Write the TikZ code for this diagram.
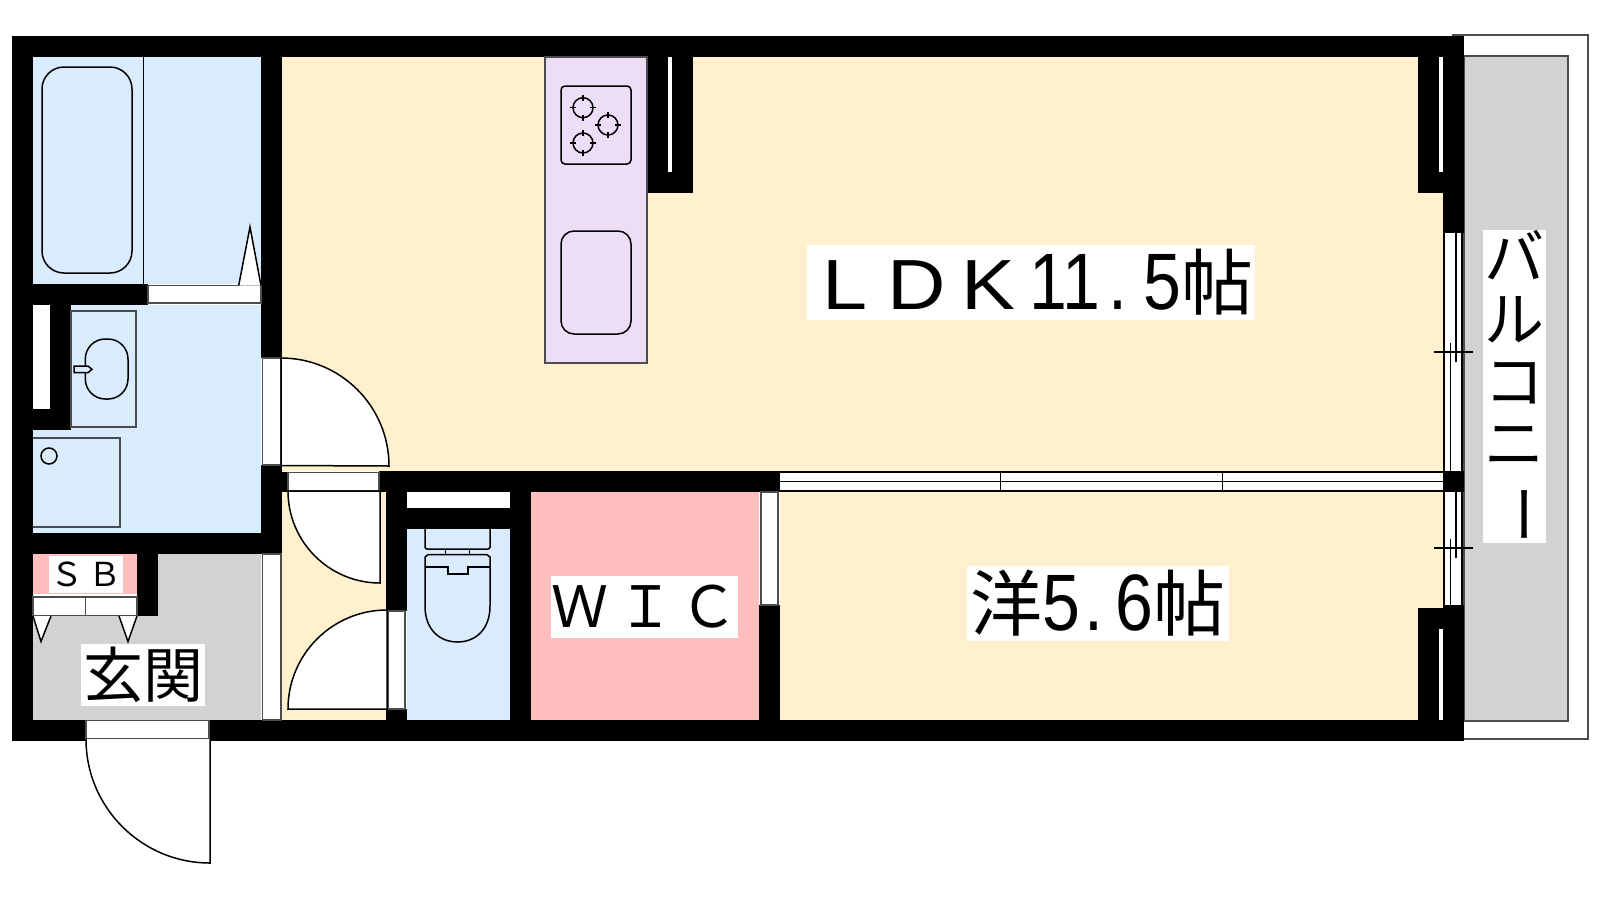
\documentclass[tikz,border=0pt]{standalone}
\usepackage{fontspec}
\usepackage{xcolor}
\newfontfamily\cjkfont{Noto Sans CJK JP}
\newfontfamily\digitfont[FakeStretch=.85]{Liberation Sans}
\newfontfamily\widefont[FakeStretch=1.14]{Liberation Sans}
\newcommand{\cjksize}[1]{\cjkfont\fontsize{#1}{#1}\selectfont}
\newcommand{\digsize}{\digitfont\fontsize{80}{80}\selectfont}
\newcommand{\widecell}[2]{\makebox[#1pt]{#2}}
\definecolor{roomcream}{HTML}{FFF0CE}
\definecolor{roomblue}{HTML}{DAEBFE}
\definecolor{roompink}{HTML}{FEBEBE}
\definecolor{roomgray}{HTML}{D2D2D2}
\definecolor{roomlilac}{HTML}{EDDDF6}
\tikzset{
 fitting/.style={draw=black, line width=1.5pt},
 frameline/.style={draw=black!70, line width=1.6pt},
 doorframe/.style={frameline, fill=white},
 doorleaf/.style={fitting, fill=white},
 labelbox/.style={fill=white, inner sep=0, outer sep=0, text=black, align=center},
}
\begin{document}
\begin{tikzpicture}[x=1pt,y=-1pt]
\useasboundingbox (0,0) rectangle (1600,900);
% rooms
\foreach \xa/\ya/\xb/\yb in {282/57/1443/471, 282/492/386/720, 780/492/1443/720}
 \fill[roomcream] (\xa,\ya) rectangle (\xb,\yb);
\foreach \xa/\ya/\xb/\yb in {33/57/261/284, 33/305/261/533, 407/529/510/720}
 \fill[roomblue] (\xa,\ya) rectangle (\xb,\yb);
\foreach \xa/\ya/\xb/\yb in {531/492/759/720, 33/554/137/594}
 \fill[roompink] (\xa,\ya) rectangle (\xb,\yb);
\fill[roomgray] (137,554) rectangle (261,720);
\fill[roomgray] (33,597) rectangle (261,720);
% balcony
\draw[frameline] (1453,35) rectangle (1588,739);
\draw[frameline, fill=roomgray] (1464,56) rectangle (1568,721);
% walls
\foreach \xa/\ya/\xb/\yb in {12/36/1464/57, 12/36/33/741, 12/720/86/741, 209/720/1464/741,
 261/36/282/358, 261/465/282/554, 282/472/288/492, 12/284/148/305, 50/305/71/430, 33/409/71/430,
 12/533/282/554, 137/554/158/616, 379/471/780/492, 386/471/407/611, 386/709/407/720,
 407/508/510/529, 510/471/531/720, 759/605/780/720, 647/36/693/193,
 1418/36/1464/193, 1443/36/1464/233, 1418/608/1464/741, 1443/605/1464/741, 1443/471/1464/492}
 \fill[black] (\xa,\ya) rectangle (\xb,\yb);
% gaps inside the walls
\foreach \xa/\ya/\xb/\yb in {407/492/510/508, 33/305/50/409, 668/57/672/172, 1439/57/1443/172, 1439/629/1443/720}
 \fill[white] (\xa,\ya) rectangle (\xb,\yb);
% door frames
\foreach \xa/\ya/\xb/\yb in {148/285.5/261/303, 262.5/358/281/465, 288/472.5/379/491, 262.5/554/281/720,
 388/611/405/709, 761/492/778/605, 33/597/85.5/615.5, 85.5/597/137/615.5, 86/720.5/209/739}
 \draw[doorframe] (\xa,\ya) rectangle (\xb,\yb);
% door leaves
\draw[doorleaf] (281,358) arc[start angle=-90, end angle=0, radius=108] -- (281,465.5) -- cycle;
\draw[doorleaf] (288,491) arc[start angle=180, end angle=90, radius=92] -- (380,491) -- cycle;
\draw[doorleaf] (288,709) arc[start angle=180, end angle=270, radius=99] -- (387,709) -- cycle;
\draw[doorleaf] (86,739) arc[start angle=180, end angle=90, radius=124] -- (210,739);
% shoe box and shower door triangles
\foreach \xa/\xb/\xc in {33/41/51, 119/128/137}
 \draw[doorleaf] (\xa,616) -- (\xb,641.5) -- (\xc,616);
\draw[doorleaf] (238.7,285.5) -- (250,227) -- (261,285.5);
% windows
\fill[white] (780,472) rectangle (1443,491);
\foreach \y in {472,481.5,491}
 \draw[fitting] (780,\y) -- (1443,\y);
\foreach \x in {1000.7,1222.3}
 \draw[fitting] (\x,472) -- (\x,491);
\foreach \ya/\yb/\ys/\yt/\yc in {233/471/362/343/352, 492/605/558/539/548} {
 \fill[white] (1444,\ya) rectangle (1462,\yb);
 \foreach \x in {1444,1462}
  \draw[fitting] (\x,\ya) -- (\x,\yb);
 \draw[fitting] (1456,\ya) -- (1456,\ys);
 \draw[fitting] (1450.7,\yt) -- (1450.7,\yb);
 \draw[fitting] (1434,\yc) -- (1473,\yc);
}
% bath
\draw[fitting] (143.7,57) -- (143.7,284);
\draw[fitting, rounded corners=22] (42,67) rectangle (132,273);
% washroom
\draw[frameline] (71,310.7) rectangle (136,427);
\draw[fitting, rounded corners=20] (85.3,339) rectangle (128,399);
\draw[fitting, fill=roomblue] (74,366) -- (88,366) -- (92,369.3) -- (88,372.7) -- (74,372.7) -- cycle;
\draw[frameline] (33,438) -- (120,438) -- (120,526.7) -- (33,526.7);
\draw[fitting] (49,456) circle[radius=8];
% kitchen
\draw[frameline, fill=roomlilac] (545,57) rectangle (647,363);
\draw[fitting, rounded corners=4] (561,86) rectangle (631,164);
\draw[fitting, rounded corners=13] (561,231) rectangle (631,334);
\foreach \cx/\cy in {583/107.7, 608/125, 583/143} {
 \draw[fitting] (\cx,\cy) circle[radius=10];
 \draw[fitting] (\cx-13,\cy) -- (\cx-7,\cy) (\cx+7,\cy) -- (\cx+13,\cy)
  (\cx,\cy-13) -- (\cx,\cy-7) (\cx,\cy+7) -- (\cx,\cy+13);
}
% toilet
\draw[fitting, rounded corners=2] (425,529) -- (425,549) -- (490,549) -- (490,529);
\draw[fitting] (445.7,549) -- (445.7,554.7) (469.7,549) -- (469.7,554.7);
\draw[fitting] (428,554.7) -- (487,554.7) -- (490,557) -- (490,606) .. controls (490,630) and (475,642) .. (457.5,642)
 .. controls (440,642) and (425,630) .. (425,606) -- (425,557) -- cycle;
\draw[fitting] (425,567) -- (448,567) -- (448,574) -- (468,574) -- (468,567) -- (490,567);
% labels
\node[labelbox, minimum width=448, minimum height=75] (ldk) at (1031,282.5)
 {\widefont\fontsize{71}{71}\selectfont\widecell{72}{L}\widecell{72}{D}\widecell{72}{K}\kern5pt{\digsize 11\kern8pt.\kern16pt 5}\cjksize{72}帖};
\node[labelbox, minimum width=262, minimum height=75] (yoshitsu) at (1098,603.5)
 {\cjksize{72}洋{\digsize 5\kern4pt.\kern12pt 6}\cjksize{72}帖};
\node[labelbox, minimum width=187, minimum height=62] (wic) at (644.5,607)
 {\cjksize{57}Ｗ\kern9ptＩ\kern6ptＣ};
\node[labelbox, minimum width=74, minimum height=37] (sb) at (86,574.5)
 {\cjksize{33}Ｓ\kern5ptＢ};
\node[labelbox, minimum width=124, minimum height=62] (genkan) at (143,675)
 {\cjksize{60}玄関};
\node[labelbox, minimum width=63, minimum height=311, font={\cjkfont\fontsize{60}{62}\selectfont}] (balcony) at (1514.5,386.5)
 {バ\\ル\\コ\\ニ\\\smash{\rotatebox[origin=c]{-90}{ー}}\rule[-16pt]{0pt}{16pt}};
\end{tikzpicture}
\end{document}
